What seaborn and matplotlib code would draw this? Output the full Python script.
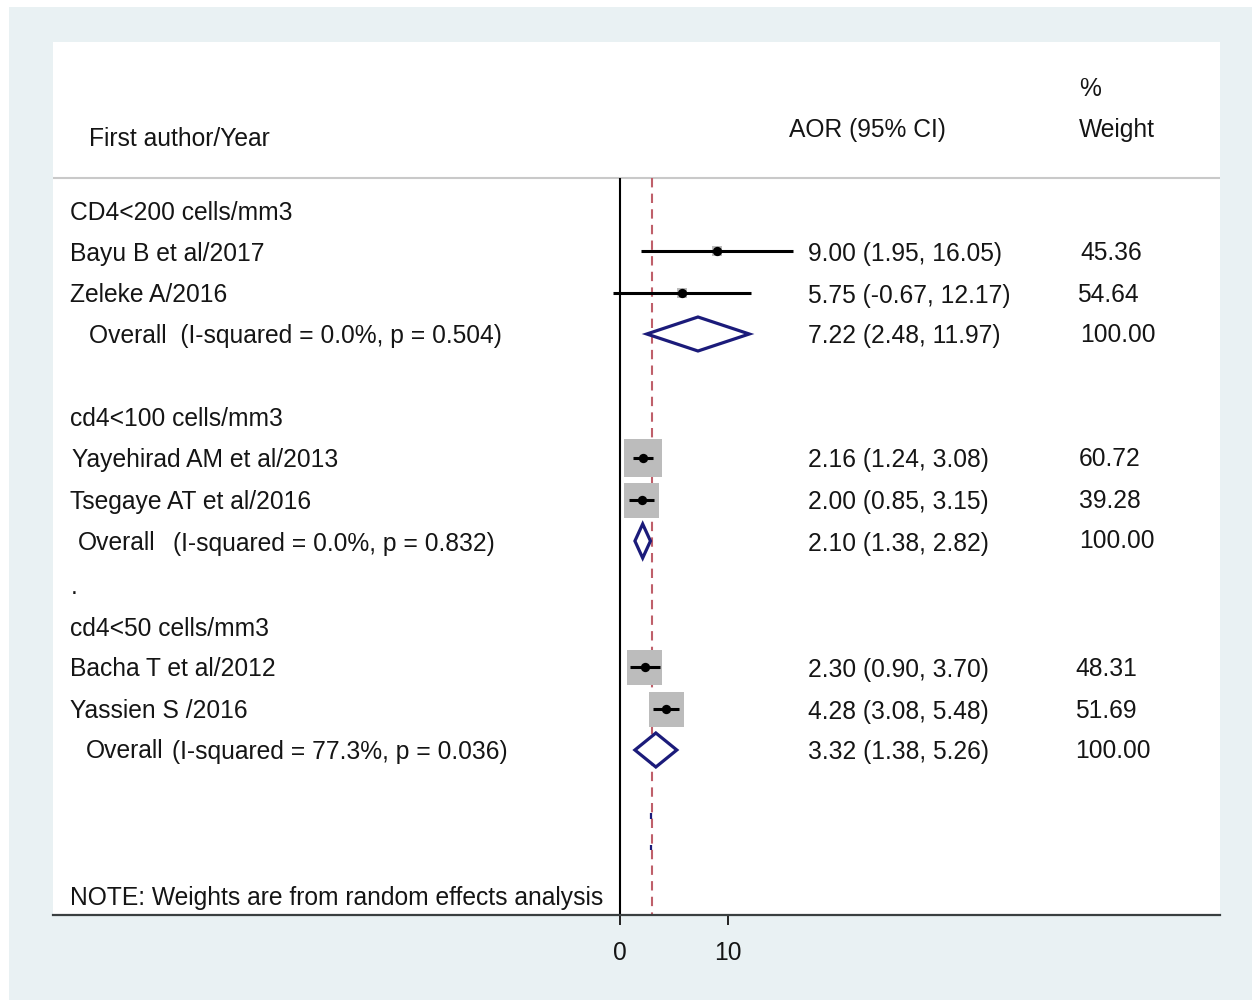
import numpy as np
import pandas as pd
import matplotlib
matplotlib.use("Agg")
import matplotlib.pyplot as plt
import seaborn as sns
from matplotlib.patches import Polygon, Rectangle

# ---------------- data ----------------
subgroups = ["CD4<200 cells/mm3", "cd4<100 cells/mm3", "cd4<50 cells/mm3"]
studies = ["Bayu B et al/2017", "Zeleke A/2016",
           "Yayehirad AM et al/2013", "Tsegaye AT et al/2016",
           "Bacha T et al/2012", "Yassien S /2016"]
study_group = [0, 0, 1, 1, 2, 2]
est = [9.00, 5.75, 2.16, 2.00, 2.30, 4.28]
lo = [1.95, -0.67, 1.24, 0.85, 0.90, 3.08]
hi = [16.05, 12.17, 3.08, 3.15, 3.70, 5.48]
weights = ["45.36", "54.64", "60.72", "39.28", "48.31", "51.69"]
est_text = ["9.00 (1.95, 16.05)", "5.75 (-0.67, 12.17)", "2.16 (1.24, 3.08)",
            "2.00 (0.85, 3.15)", "2.30 (0.90, 3.70)", "4.28 (3.08, 5.48)"]

overall_est = [7.22, 2.10, 3.32]
overall_lo = [2.48, 1.38, 1.38]
overall_hi = [11.97, 2.82, 5.26]
overall_text = ["7.22 (2.48, 11.97)", "2.10 (1.38, 2.82)", "3.32 (1.38, 5.26)"]
overall_i2 = ["0.0%", "0.0%", "77.3%"]
overall_p = ["0.504", "0.832", "0.036"]
overall_weight = ["100.00", "100.00", "100.00"]
pooled_line = 2.97
xticks = [0, 10]

df = pd.DataFrame({"study": studies, "est": est, "lo": lo, "hi": hi,
                   "group": study_group})

# ---------------- layout (pixels of the 1252x1000 canvas) ----------------
W, H = 1252, 1000
X0PIX, XSCALE = 620, 10.8          # pixel of x=0, pixels per unit
PANEL_L, PANEL_R, PANEL_T, PANEL_B = 53, 1220, 42, 915

def px(xp):
    return (xp - X0PIX) / XSCALE

study_y = [251, 293, 458, 500, 667, 709]
header_y = [210, 417, 626]
overall_y = [334, 541, 750]
weight_x = [1080, 1077, 1079, 1079, 1075, 1075]
overall_weight_x = [1080, 1079, 1075]
overall_label_x = [(89, None), (78, 173), (86, 172)]
box_px = [10, 10, 38, 35, 35, 35]

sns.set_theme(style="white")
plt.rcParams["font.family"] = ["Liberation Sans", "DejaVu Sans"]
FS = 17.7
TXT = "#151515"
NAVY = "#1b1b7a"
DY = 2.5  # text baseline tweak

fig = plt.figure(figsize=(W / 100, H / 100), dpi=100)
fig.patch.set_facecolor("white")
fig.patches.append(Rectangle((9 / W, 0), 1, (H - 7) / H, transform=fig.transFigure,
                             facecolor="#e9f1f3", edgecolor="none", zorder=-10))

ax = fig.add_axes([PANEL_L / W, (H - PANEL_B) / H,
                   (PANEL_R - PANEL_L) / W, (PANEL_B - PANEL_T) / H])
ax.set_facecolor("white")
ax.set_xlim(px(PANEL_L), px(PANEL_R))
ax.set_ylim(PANEL_B, PANEL_T)

# reference lines
ax.hlines(178, px(PANEL_L), px(PANEL_R), color="#c9c9c9", lw=1.5, zorder=1)
ax.vlines(0, 178, PANEL_B, color="black", lw=1.5, zorder=2)
ax.vlines(pooled_line, 178, PANEL_B, color="#bf5f6a", lw=1.5,
          linestyles=(0, (4.5, 3)), zorder=2)

# study boxes
df["y"] = study_y
df["s"] = [(b * 0.72) ** 2 for b in box_px]
ax.scatter(df["est"], df["y"], s=df["s"], marker="s", color="#bcbcbc",
           edgecolor="#bcbcbc", linewidths=0, zorder=3)
# CIs
ax.hlines(df["y"], df["lo"], df["hi"], color="black", lw=2.2, zorder=4)
# point estimates
sns.scatterplot(data=df, x="est", y="y", color="black", s=45, marker="o",
                edgecolor="black", linewidth=0, ax=ax, zorder=5, legend=False)

# diamonds
for e, l, h, y in zip(overall_est, overall_lo, overall_hi, overall_y):
    ax.add_patch(Polygon([(l, y), (e, y - 17), (h, y), (e, y + 17)],
                         closed=True, facecolor="white", edgecolor=NAVY,
                         lw=2.3, zorder=4))

# tiny navy marks near the pooled line
ax.vlines([px(651), px(651)], [813, 845], [819, 850], color=NAVY, lw=1.6, zorder=3)

# ---------------- text ----------------
def t(xp, y, s, **kw):
    ax.text(px(xp), y + DY, s, fontsize=FS, color=TXT, ha="left", va="center", **kw)

t(89, 137, "First author/Year")
t(789, 128, "AOR (95% CI)")
t(1079, 87, "%")
t(1079, 128, "Weight")

for g, y in zip(subgroups, header_y):
    t(70, y, g)
study_x = [70, 70, 72, 70, 70, 70]
for s, y, xs, et, w, wx in zip(studies, study_y, study_x, est_text, weights, weight_x):
    t(xs, y, s)
    t(808, y, et)
    t(wx, y - 1, w)

for (lx, rx), y, i2, p, ot, ow, owx in zip(overall_label_x, overall_y, overall_i2,
                                          overall_p, overall_text, overall_weight,
                                          overall_weight_x):
    if rx is None:
        t(lx, y, f"Overall  (I-squared = {i2}, p = {p})")
    else:
        t(lx, y - 1, "Overall")
        t(rx, y, f"(I-squared = {i2}, p = {p})")
    t(808, y, ot)
    t(owx, y - 2, ow)

t(71, 584, ".")
t(70, 895, "NOTE: Weights are from random effects analysis")

# ---------------- axis ----------------
for side in ["left", "right", "top"]:
    ax.spines[side].set_visible(False)
ax.spines["bottom"].set_visible(True)
ax.spines["bottom"].set_color("#3a3f40")
ax.spines["bottom"].set_linewidth(1.6)
ax.set_xticks(xticks)
ax.set_xticklabels([str(v) for v in xticks])
ax.set_yticks([])
ax.tick_params(axis="x", bottom=True, length=7.5, width=1.4, color="#222222",
               labelsize=FS, labelcolor=TXT, pad=11)
ax.set_xlabel("")
ax.set_ylabel("")

fig.savefig("out.png", dpi=100, facecolor=fig.get_facecolor())
